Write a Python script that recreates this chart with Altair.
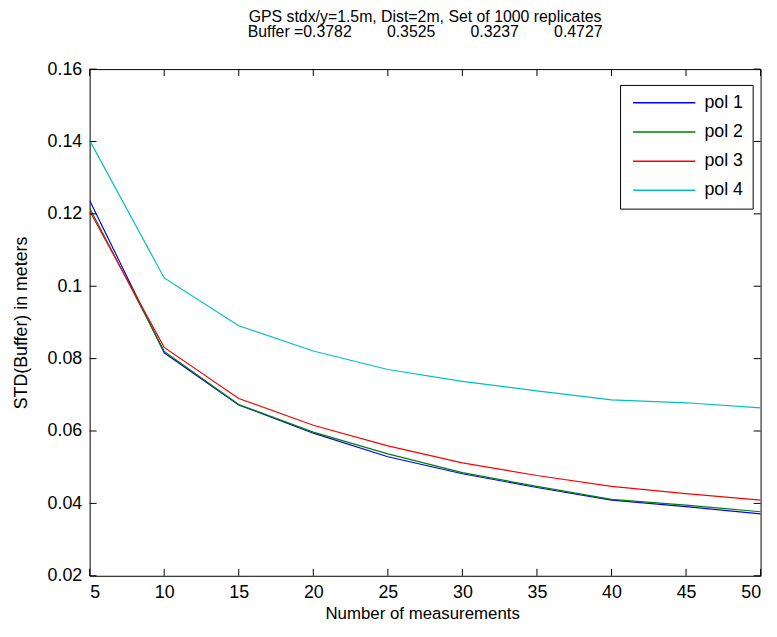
import altair as alt
import pandas as pd

F = "Liberation Sans"
NB = "\u00a0"

n_meas = [5, 10, 15, 20, 25, 30, 35, 40, 45, 50]
pol1 = [0.1237, 0.0816, 0.0672, 0.0594, 0.0529, 0.0482, 0.0444, 0.0409, 0.0391, 0.0371]
pol2 = [0.1216, 0.0820, 0.0673, 0.0597, 0.0537, 0.0485, 0.0447, 0.0411, 0.0395, 0.0377]
pol3 = [0.1208, 0.0831, 0.0690, 0.0616, 0.0559, 0.0512, 0.0477, 0.0447, 0.0427, 0.0409]
pol4 = [0.1403, 0.1023, 0.0891, 0.0821, 0.0770, 0.0737, 0.0711, 0.0686, 0.0678, 0.0664]

series_names = ["pol 1", "pol 2", "pol 3", "pol 4"]
series_colors = ["#0000ff", "#008000", "#ff0000", "#00bfbf"]

x_ticks = [5, 10, 15, 20, 25, 30, 35, 40, 45, 50]
y_ticks = [0.02, 0.04, 0.06, 0.08, 0.1, 0.12, 0.14, 0.16]

buffers = ["0.3782", "0.3525", "0.3237", "0.4727"]
title_line1 = "GPS stdx/y=1.5m, Dist=2m, Set of 1000 replicates"
title_line2 = "Buffer =" + (NB * 8).join(buffers) + NB * 6

rows = []
for name, vals in zip(series_names, [pol1, pol2, pol3, pol4]):
    for n, v in zip(n_meas, vals):
        rows.append({"n": n, "std": v, "series": name})
df = pd.DataFrame(rows)

W, H = 678, 512
TL = 7

xs = alt.Scale(domain=[5, 50], nice=False, zero=False)
ys = alt.Scale(domain=[0.02, 0.16], nice=False, zero=False)

x_axis = alt.Axis(values=x_ticks, title="Number of measurements", labelPadding=8,
                  titleX=336, titleY=43, titleBaseline="alphabetic", titleAlign="center",
                  titleFontSize=17)
y_axis = alt.Axis(values=y_ticks, format="~g", title="STD(Buffer) in meters", labelPadding=8,
                  titleX=-69, titleY=H / 2, titleBaseline="middle", titleAlign="center",
                  titleAngle=270)

lines = alt.Chart(df).mark_line(strokeWidth=1.2, clip=True).encode(
    x=alt.X("n:Q", scale=xs, axis=x_axis),
    y=alt.Y("std:Q", scale=ys, axis=y_axis),
    color=alt.Color("series:N",
                    scale=alt.Scale(domain=series_names, range=series_colors),
                    legend=alt.Legend(title=None, orient="none", legendX=536, legendY=16,
                                      symbolType="M-4,0H4", symbolSize=248, symbolStrokeWidth=1.5,
                                      labelFontSize=18, labelFont=F, labelColor="black",
                                      padding=9, rowPadding=11.5, symbolOffset=26.6, labelOffset=31.6,
                                      strokeColor="black", fillColor="white", cornerRadius=0)),
    detail="series:N",
)

xt = pd.DataFrame({"n": x_ticks})
yt = pd.DataFrame({"std": y_ticks})

t_bottom = alt.Chart(xt).mark_rule(color="black", strokeWidth=1).encode(
    x=alt.X("n:Q", scale=xs, axis=x_axis), y=alt.value(H), y2=alt.value(H - TL))
t_top = alt.Chart(xt).mark_rule(color="black", strokeWidth=1).encode(
    x=alt.X("n:Q", scale=xs, axis=x_axis), y=alt.value(0), y2=alt.value(TL))
t_left = alt.Chart(yt).mark_rule(color="black", strokeWidth=1).encode(
    y=alt.Y("std:Q", scale=ys, axis=y_axis), x=alt.value(0), x2=alt.value(TL))
t_right = alt.Chart(yt).mark_rule(color="black", strokeWidth=1).encode(
    y=alt.Y("std:Q", scale=ys, axis=y_axis), x=alt.value(W), x2=alt.value(W - TL))

chart = alt.layer(lines, t_bottom, t_top, t_left, t_right).properties(
    width=W, height=H,
    background="white",
    padding={"left": 82.5, "top": 58.5, "right": 8.5, "bottom": 46.5},
    autosize=alt.AutoSizeParams(type="none"),
    title=alt.TitleParams(text=[title_line1, title_line2], anchor="middle", fontSize=16,
                          font=F, fontWeight="normal", color="black", lineHeight=16, offset=20),
).configure_view(stroke="black", strokeWidth=1).configure_axis(
    grid=False, domain=False, ticks=False, labelFont=F, labelFontSize=18, labelColor="black",
    titleFont=F, titleFontSize=18, titleFontWeight="normal", titleColor="black"
)

chart.save("out.html", embed_options={"renderer": "svg", "actions": False})
